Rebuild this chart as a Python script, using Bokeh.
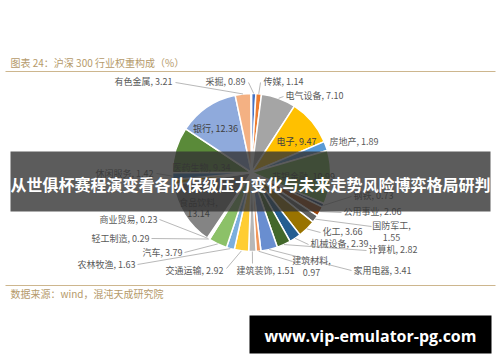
import math
from bokeh.plotting import figure
from bokeh.models import ColumnDataSource, BoxAnnotation, Label
from bokeh.core.properties import value
from bokeh.embed import file_html
from bokeh.resources import INLINE

# ---------------- data ----------------
categories = ["采掘", "传媒", "电气设备", "电子", "房地产", "非银金融", "钢铁", "公用事业",
              "国防军工", "化工", "机械设备", "计算机", "家用电器", "建筑材料", "建筑装饰",
              "交通运输", "农林牧渔", "汽车", "轻工制造", "商业贸易", "食品饮料", "通信",
              "休闲服务", "医药生物", "银行", "有色金属", "综合"]
weights = [0.89, 1.14, 7.10, 9.47, 1.89, 10.99, 0.73, 2.06,
           1.55, 3.66, 2.39, 2.82, 3.41, 0.97, 1.51,
           2.92, 1.63, 3.79, 0.29, 0.23, 13.14, 0.98,
           1.42, 9.34, 12.36, 3.21, 0.11]
title_text = "图表 24：沪深 300 行业权重构成（%）"
source_text = "数据来源：wind，混沌天成研究院"
banner_text = "从世俱杯赛程演变看各队保级压力变化与未来走势风险博弈格局研判"
url_text = "www.vip-emulator-pg.com"

# ---------------- styles / layout ----------------
colors = ["#4472C4", "#ED7D31", "#A5A5A5", "#FFC000", "#5B9BD5", "#70AD47",
          "#264478", "#9E480E", "#636363", "#997300", "#255E91", "#43682B",
          "#698ED0", "#F1975A", "#B7B7B7", "#FFCD33", "#7CAFDD", "#8CC168",
          "#335AA1", "#D26012", "#848484", "#CC9A00", "#327DC2", "#5A8A39",
          "#8FAADC", "#F4B183", "#C9C9C9"]

W, H = 500, 362
CX, CY, R = 251, 172, 79  # pixel coords (y down)

def Y(py):
    return H - py

# label layout: name -> (x, y, align, leader_attach or None, second_line_y or None)
label_layout = {
    "有色金属": (172, 81, "right", (175, 82), None),
    "采掘": (245, 81, "right", (248, 82), None),
    "传媒": (263, 81, "left", (260, 82), None),
    "电气设备": (285, 95, "left", (283, 96), None),
    "电子": (296, 141, "center", None, None),
    "房地产": (329, 141, "left", None, None),
    "非银金融": (303, 176, "center", None, None),
    "钢铁": (353, 195, "left", (351, 196), None),
    "公用事业": (343, 211, "left", (341, 212), None),
    "国防军工": (391, 225, "center", (371, 226), 237),
    "化工": (322, 231, "left", (320, 232), None),
    "机械设备": (310, 243, "left", (308, 244), None),
    "计算机": (368, 249, "left", (366, 250), None),
    "建筑材料": (311, 260, "center", (292, 261), 272),
    "家用电器": (353, 270, "left", (351, 270), None),
    "建筑装饰": (236, 270, "left", (252, 263), None),
    "交通运输": (223, 270, "right", (226, 268), None),
    "农林牧渔": (135, 264, "right", (137, 264), None),
    "汽车": (182, 252, "right", (184, 252), None),
    "轻工制造": (149, 238, "right", (151, 238), None),
    "商业贸易": (157, 219, "right", (159, 219), None),
    "食品饮料": (198, 202, "center", None, 213),
    "休闲服务": (153, 173, "right", (156, 173), None),
    "医药生物": (201, 167, "center", None, None),
    "银行": (215, 128, "center", None, None),
}
inside = {"电子", "非银金融", "食品饮料", "医药生物", "银行"}

# ---------------- figure ----------------
p = figure(width=W, height=H, x_range=(0, W), y_range=(0, H),
           toolbar_location=None, output_backend="svg", min_border=0)
p.axis.visible = False
p.grid.visible = False
p.outline_line_color = None
p.background_fill_color = "white"
p.border_fill_color = "white"

total = sum(weights)
starts, ends, mids = [], [], []
cum = 0.0
for v in weights:
    f0 = cum / total
    cum += v
    f1 = cum / total
    starts.append(math.pi / 2 - 2 * math.pi * f1)
    ends.append(math.pi / 2 - 2 * math.pi * f0)
    mids.append((f0 + f1) / 2)

src = ColumnDataSource(dict(start=starts, end=ends, color=colors,
                            cat=categories, val=weights))
p.wedge(x=CX, y=Y(CY), radius=R, start_angle="start", end_angle="end",
        direction="anticlock", fill_color="color", line_color="white",
        line_width=1.5, source=src)

# leader lines + labels
lx0, ly0, lx1, ly1 = [], [], [], []
tx, ty, tt, ta, tc = [], [], [], [], []
for cat, v, m in zip(categories, weights, mids):
    if cat not in label_layout:
        continue
    x, y, align, attach, y2 = label_layout[cat]
    col = "#404040" if cat in inside else "#595959"
    if attach is not None:
        ang = 2 * math.pi * m
        px = CX + R * math.sin(ang)
        py = CY - R * math.cos(ang)
        lx0.append(attach[0]); ly0.append(Y(attach[1]))
        lx1.append(px); ly1.append(Y(py))
    if y2 is None:
        tx.append(x); ty.append(Y(y)); tt.append(f"{cat}, {v:.2f}"); ta.append(align); tc.append(col)
    else:
        tx.append(x); ty.append(Y(y)); tt.append(f"{cat},"); ta.append(align); tc.append(col)
        tx.append(x); ty.append(Y(y2)); tt.append(f"{v:.2f}"); ta.append(align); tc.append(col)

p.segment(x0=lx0, y0=ly0, x1=lx1, y1=ly1, line_color="#A6A6A6", line_width=0.8)
tsrc = ColumnDataSource(dict(x=tx, y=ty, t=tt, a=ta, c=tc))
p.text(x="x", y="y", text="t", text_align="a", text_color="c", source=tsrc,
       text_baseline="middle", text_font=value("Noto Sans CJK SC"),
       text_font_size="9px")

# title, rules, source
p.line(x=[5, 495], y=[Y(71), Y(71)], line_color="#CDB68E", line_width=1.2)
p.line(x=[5, 495], y=[Y(285), Y(285)], line_color="#CDB68E", line_width=1.2)
p.text(x=[10], y=[Y(62)], text=[title_text], text_baseline="middle",
       text_font=value("Noto Sans CJK SC"), text_font_size="10px", text_color="#B59A6A")
p.text(x=[10], y=[Y(293)], text=[source_text], text_baseline="middle",
       text_font=value("Noto Sans CJK SC"), text_font_size="10px", text_color="#B59A6A")

# overlay banner
p.add_layout(BoxAnnotation(left=10, right=490, top=Y(151), bottom=Y(211),
                           fill_color="#333333", fill_alpha=0.8, line_color=None))
p.add_layout(Label(x=250, y=Y(183), text=banner_text, text_align="center",
                   text_baseline="middle", text_color="white", text_font_style="bold",
                   text_font="Noto Sans CJK SC", text_font_size="16px"))

# bottom URL box
p.add_layout(BoxAnnotation(left=249, right=491, top=Y(315), bottom=Y(353),
                           fill_color="black", fill_alpha=1.0, line_color=None))
p.add_layout(Label(x=370, y=Y(335), text=url_text, text_align="center",
                   text_baseline="middle", text_color="white", text_font_style="bold",
                   text_font="Open Sans", text_font_size="16px"))

open("out.html", "w").write(file_html(p, INLINE))
